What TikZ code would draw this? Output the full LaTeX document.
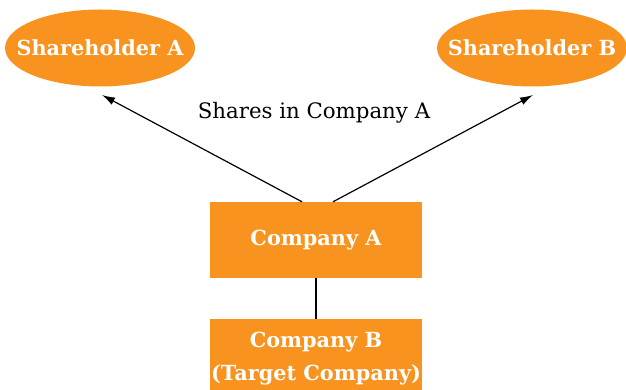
\documentclass[tikz,border=0pt]{standalone}
\usepackage{fontspec}
\setmainfont{DejaVu Serif}
\usetikzlibrary{shapes.geometric,arrows.meta}
\definecolor{orng}{HTML}{F7931E}
\begin{document}
\begin{tikzpicture}[x=1pt,y=-1pt,
  holder/.style={ellipse,fill=orng,minimum width=190pt,minimum height=77pt,inner sep=0pt},
  holdertext/.style={text=white,font=\fontsize{20.8}{24}\selectfont\bfseries,inner sep=0pt},
  company/.style={rectangle,fill=orng,text=white,font=\fontsize{20.8}{33}\selectfont\bfseries,minimum width=212pt,minimum height=76pt,inner sep=0pt,align=center},
  arr/.style={-{Latex[length=13pt,width=8pt]},line width=1.2pt},
  lnk/.style={line width=1.2pt}]
\useasboundingbox (0,0) rectangle (626,390);
\node[holder,label={[holdertext]center:Shareholder A}] (sa) at (100,48) {};
\node[holder,label={[holdertext]center:Shareholder B}] (sb) at (532,48) {};
\node[company] (ca) at (316,240) {Company A};
\node[company,minimum height=80pt] (cb) at (316,359) {Company B\\(Target Company)};
\node[font=\fontsize{21.3}{24}\selectfont] (lbl) at (314,113) {Shares in Company A};
\coordinate (ta) at (102,95);
\coordinate (tb) at (533,95);
\draw[arr] (ca.north -| 302,0) -- (ta);
\draw[arr] (ca.north -| 333,0) -- (tb);
\draw[lnk] (ca) -- (cb);
\end{tikzpicture}
\end{document}
